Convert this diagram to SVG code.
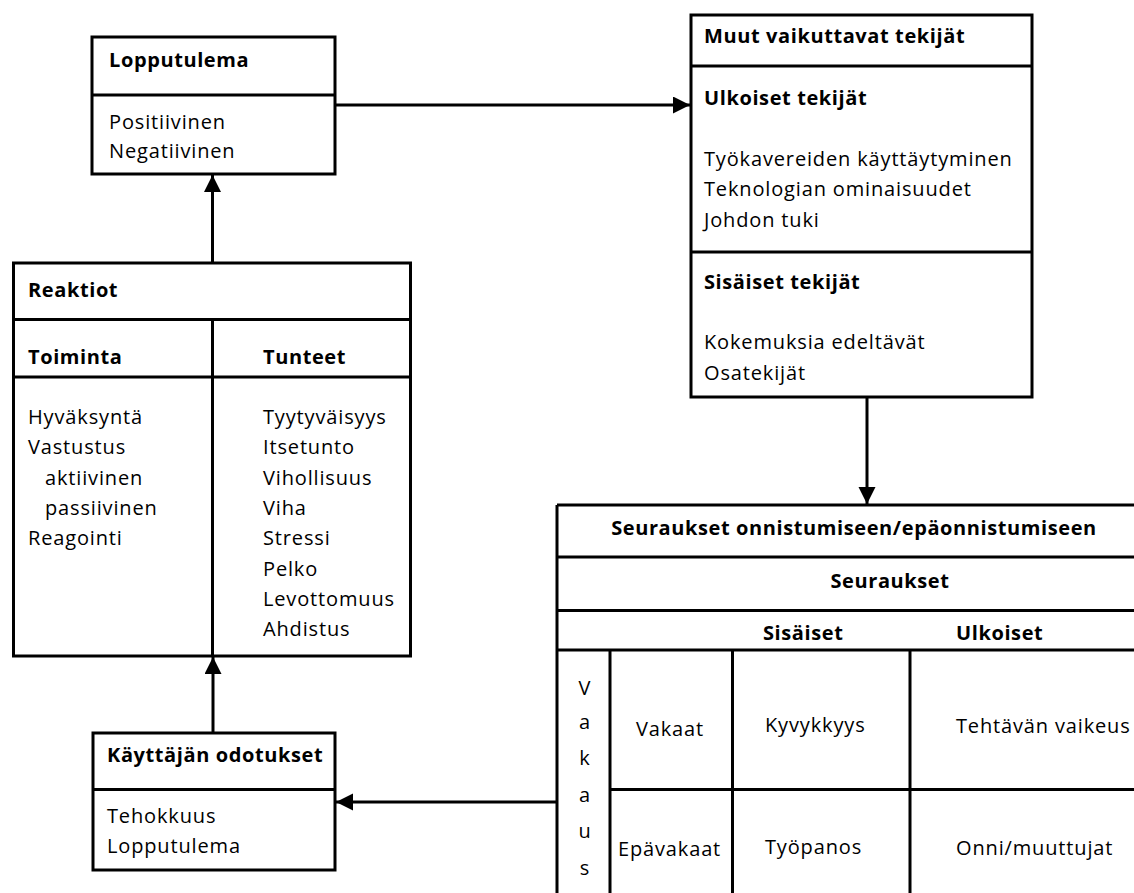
<svg xmlns="http://www.w3.org/2000/svg" width="1134" height="893" viewBox="0 0 1134 893">
  <style>
    .frame { fill: #fff; stroke: #000; stroke-width: 3; }
    .rule { stroke: #000; stroke-width: 3; fill: none; }
    .link { stroke: #000; stroke-width: 3; fill: none; marker-end: url(#head); }
    text { font-family: "Open Sans", "Noto Sans", sans-serif; fill: #000; }
    .t { font-size: 20px; letter-spacing: 0.85px; }
    .b { font-size: 20px; font-weight: 700; letter-spacing: 0.6px; }
    .c { text-anchor: middle; }
  </style>
  <defs>
    <marker id="head" markerUnits="userSpaceOnUse" markerWidth="18" markerHeight="18" refX="17" refY="8.5" orient="auto">
      <path d="M0,0 L17,8.5 L0,17 Z" fill="#000"/>
    </marker>
  </defs>

  <rect width="1134" height="893" fill="#fff"/>

  <!-- Connectors -->
  <g id="connectors">
    <path class="link" d="M335,105 H690"/>
    <path class="link" d="M867,397 V504"/>
    <path class="link" d="M212.5,263 V175"/>
    <path class="link" d="M213,733 V657"/>
    <path class="link" d="M556,802 H336"/>
  </g>

  <!-- Lopputulema -->
  <g id="lopputulema">
    <rect class="frame" x="92" y="37" width="243" height="137"/>
    <line class="rule" x1="92" y1="95" x2="335" y2="95"/>
    <text class="b" x="109" y="67">Lopputulema</text>
    <text class="t" x="109" y="129">Positiivinen</text>
    <text class="t" x="109" y="158">Negatiivinen</text>
  </g>

  <!-- Muut vaikuttavat tekijät -->
  <g id="muut-tekijat">
    <rect class="frame" x="691" y="15" width="341" height="382"/>
    <line class="rule" x1="691" y1="66" x2="1032" y2="66"/>
    <line class="rule" x1="691" y1="252" x2="1032" y2="252"/>
    <text class="b" x="704" y="43">Muut vaikuttavat tekijät</text>
    <text class="b" x="704" y="105">Ulkoiset tekijät</text>
    <text class="t" x="704" y="166">Työkavereiden käyttäytyminen</text>
    <text class="t" x="704" y="196">Teknologian ominaisuudet</text>
    <text class="t" x="704" y="227">Johdon tuki</text>
    <text class="b" x="704" y="289">Sisäiset tekijät</text>
    <text class="t" x="704" y="349">Kokemuksia edeltävät</text>
    <text class="t" x="704" y="380">Osatekijät</text>
  </g>

  <!-- Reaktiot -->
  <g id="reaktiot">
    <rect class="frame" x="13.5" y="263" width="397" height="393"/>
    <line class="rule" x1="13.5" y1="319.5" x2="410.5" y2="319.5"/>
    <line class="rule" x1="13.5" y1="377" x2="410.5" y2="377"/>
    <line class="rule" x1="212.5" y1="319.5" x2="212.5" y2="656"/>
    <text class="b" x="28" y="297">Reaktiot</text>
    <text class="b" x="28" y="364">Toiminta</text>
    <text class="b" x="263" y="364">Tunteet</text>
    <text class="t" x="28" y="424">Hyväksyntä</text>
    <text class="t" x="28" y="454">Vastustus</text>
    <text class="t" x="45" y="485">aktiivinen</text>
    <text class="t" x="45" y="515">passiivinen</text>
    <text class="t" x="28" y="545">Reagointi</text>
    <text class="t" x="263" y="424">Tyytyväisyys</text>
    <text class="t" x="263" y="454">Itsetunto</text>
    <text class="t" x="263" y="485">Vihollisuus</text>
    <text class="t" x="263" y="515">Viha</text>
    <text class="t" x="263" y="545">Stressi</text>
    <text class="t" x="263" y="576">Pelko</text>
    <text class="t" x="263" y="606">Levottomuus</text>
    <text class="t" x="263" y="636">Ahdistus</text>
  </g>

  <!-- Käyttäjän odotukset -->
  <g id="odotukset">
    <rect class="frame" x="93" y="733" width="242" height="137"/>
    <line class="rule" x1="93" y1="789.5" x2="335" y2="789.5"/>
    <text class="b" x="107" y="762">Käyttäjän odotukset</text>
    <text class="t" x="107" y="823">Tehokkuus</text>
    <text class="t" x="107" y="853">Lopputulema</text>
  </g>

  <!-- Seuraukset onnistumiseen/epäonnistumiseen -->
  <g id="seuraukset">
    <rect x="557" y="505" width="600" height="400" fill="#fff"/>
    <path class="rule" d="M557,505 H1140 M557,505 V895"/>
    <path class="rule" d="M557,557 H1140 M557,610.5 H1140 M557,650 H1140 M610,789.5 H1140"/>
    <path class="rule" d="M610,650 V895 M732.5,650 V895 M910,650 V895"/>
    <text class="b c" x="854" y="535">Seuraukset onnistumiseen/epäonnistumiseen</text>
    <text class="b c" x="890" y="588">Seuraukset</text>
    <text class="b" x="763" y="640">Sisäiset</text>
    <text class="b" x="956" y="640">Ulkoiset</text>
    <text class="t c" x="585" y="695">V</text>
    <text class="t c" x="585" y="729">a</text>
    <text class="t c" x="585" y="765">k</text>
    <text class="t c" x="585" y="802">a</text>
    <text class="t c" x="585" y="838">u</text>
    <text class="t c" x="585" y="875">s</text>
    <text class="t" x="636" y="736">Vakaat</text>
    <text class="t" x="618" y="856">Epävakaat</text>
    <text class="t" x="765" y="732">Kyvykkyys</text>
    <text class="t" x="765" y="854">Työpanos</text>
    <text class="t" x="956" y="733">Tehtävän vaikeus</text>
    <text class="t" x="956" y="855">Onni/muuttujat</text>
  </g>
</svg>
